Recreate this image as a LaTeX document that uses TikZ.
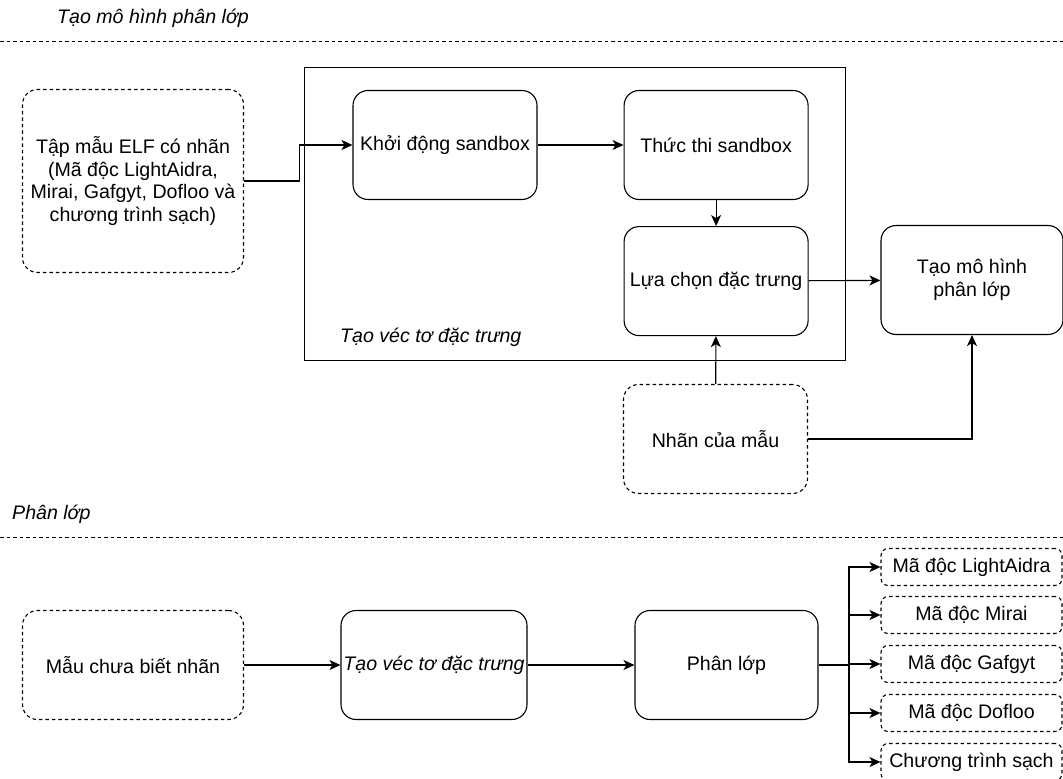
\documentclass[tikz,border=0pt]{standalone}
\usepackage{fontspec}
\setmainfont{Liberation Sans}
\usetikzlibrary{positioning,arrows.meta}

\begin{document}
\begin{tikzpicture}[x=1pt,y=-1pt,
  box/.style={draw,line width=1.1pt,rounded corners=15pt,align=center,minimum width=184pt,minimum height=109pt,inner sep=2pt,font=\fontsize{19.6}{22.6}\selectfont},
  dbox/.style={box,dash pattern=on 3.5pt off 3pt},
  outbox/.style={draw,line width=1.1pt,dash pattern=on 3.5pt off 3pt,rounded corners=7pt,minimum width=181pt,minimum height=37pt,inner sep=1pt,font=\fontsize{19.6}{22.6}\selectfont},
  title/.style={anchor=west,inner sep=0pt,font=\fontsize{19.6}{22.6}\selectfont\itshape},
  sep/.style={line width=0.9pt,dash pattern=on 3.5pt off 3pt},
  arr/.style={-{Stealth[length=11pt,width=10pt,inset=3pt]},line width=1.1pt}
]
\useasboundingbox (0,0) rectangle (1063,779);
% phase 1
\node[title] (t1) at (57,18) {Tạo mô hình phân lớp};
\draw[sep] (0,41) -- (1063,41);
\node[draw,line width=0.9pt,minimum width=541pt,minimum height=293pt,inner sep=0pt] (khung) at (574.5,213.5) {};
\node[title] (tvec) at (340,337) {Tạo véc tơ đặc trưng};
\node[dbox,minimum width=221pt,minimum height=183pt] (elf) at (133,181) {Tập mẫu ELF có nhãn\\(Mã độc LightAidra,\\Mirai, Gafgyt, Dofloo và\\chương trình sạch)};
\node[box] (khoidong) at (445,145) {Khởi động sandbox};
\node[box,right=86pt of khoidong] (thucthi) {Thức thi sandbox};
\node[box,below=26pt of thucthi] (luachon) {Lựa chọn đặc trưng};
\node[box,minimum width=182pt] (taomh) at (972,280) {Tạo mô hình\\phân lớp};
\node[dbox] (nhan) at (715.5,439) {Nhãn của mẫu};
\draw[arr] (elf.east) -- ++(55,0) |- (khoidong.west);
\draw[arr] (khoidong) -- (thucthi);
\draw[arr] (thucthi) -- (luachon);
\draw[arr] (luachon) -- (taomh);
\draw[arr] (nhan) -- (luachon);
\draw[arr] (nhan.east) -| (taomh.south);
% phase 2
\node[title] (t2) at (12,514) {Phân lớp};
\draw[sep] (0,537) -- (1063,537);
\node[dbox,minimum width=221pt] (mau) at (133,665) {Mẫu chưa biết nhãn};
\node[box,minimum width=186pt,font=\fontsize{19.6}{22.6}\selectfont\itshape] (taovec) at (434,665) {Tạo véc tơ đặc trưng};
\node[box,minimum width=183pt] (phanlop) at (726.5,665) {Phân lớp};
\draw[arr] (mau) -- (taovec);
\draw[arr] (taovec) -- (phanlop);
\coordinate (fork) at (849,665);
\draw[line width=1.4pt] (phanlop.east) -- (fork);
\foreach \name/\y/\txt in {o1/567/Mã độc LightAidra,o2/615/Mã độc Mirai,o3/664/Mã độc Gafgyt,o4/713/Mã độc Dofloo,o5/762/Chương trình sạch}{
  \node[outbox] (\name) at (971.5,\y) {\txt};
  \draw[arr] (fork) |- (\name.west);
}
\end{tikzpicture}
\end{document}
